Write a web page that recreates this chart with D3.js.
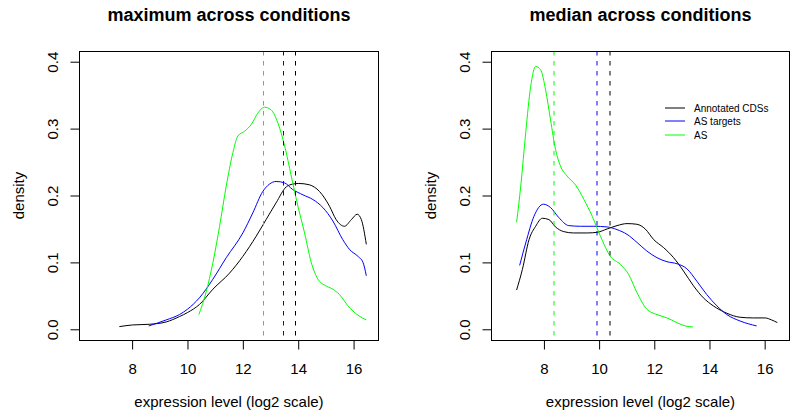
<!DOCTYPE html>
<html>
<head>
<meta charset="utf-8">
<script src="https://d3js.org/d3.v7.min.js"></script>
<style>
  body { margin: 0; background: #fff; }
  text { font-family: "Liberation Sans", Arial, Helvetica, sans-serif; fill: #000; }
</style>
</head>
<body>
<svg id="chart" width="790" height="414"></svg>
<script>
// series labels + colours (order: CDS, targets, AS)
var seriesNames = ["Annotated CDSs", "AS targets", "AS"];
var seriesColors = ["#000000", "#0000ff", "#00ff00"];

var xTicks = [8, 10, 12, 14, 16];
var yTicks = [0, 0.1, 0.2, 0.3, 0.4];

// maximum across conditions: density curves [log2 expression, density]
var maxCDS = [[7.54,0.004],[8.02,0.0065],[8.63,0.0075],[9.23,0.011],[9.71,0.019],[10.0,0.025],[10.43,0.037],
  [10.92,0.06],[11.52,0.084],[12.0,0.109],[12.48,0.139],[12.84,0.164],[13.2,0.189],[13.57,0.213],[13.8,0.217],
  [14.02,0.218],[14.4,0.216],[14.77,0.206],[15.13,0.184],[15.37,0.164],[15.67,0.154],[15.92,0.164],
  [16.13,0.172],[16.28,0.164],[16.46,0.127]];
var maxTargets = [[8.6,0.005],[9.23,0.014],[9.71,0.022],[10.0,0.03],[10.43,0.047],[10.92,0.075],[11.4,0.107],
  [12.0,0.144],[12.36,0.174],[12.72,0.206],[12.96,0.217],[13.2,0.221],[13.5,0.219],[13.8,0.209],[14.17,0.201],
  [14.53,0.194],[14.89,0.182],[15.25,0.162],[15.61,0.134],[15.86,0.119],[16.16,0.109],[16.34,0.1],[16.46,0.08]];
var maxAS = [[10.41,0.022],[10.67,0.055],[10.92,0.1],[11.16,0.154],[11.4,0.214],[11.64,0.264],[11.82,0.289],
  [12.06,0.296],[12.3,0.306],[12.54,0.323],[12.78,0.332],[13.02,0.328],[13.27,0.308],[13.51,0.274],[13.75,0.229],
  [13.99,0.184],[14.23,0.144],[14.47,0.1],[14.71,0.075],[14.95,0.066],[15.25,0.06],[15.49,0.052],[15.8,0.035],
  [16.16,0.021],[16.46,0.014]];
var maxMedians = [13.92, 13.48, 12.76];

// median across conditions
var medCDS = [[7.01,0.0587],[7.22,0.0896],[7.46,0.134],[7.7,0.154],[7.94,0.166],[8.18,0.164],[8.42,0.153],
  [8.72,0.146],[9.08,0.144],[9.57,0.144],[9.93,0.145],[10.29,0.15],[10.65,0.155],[11.01,0.158],[11.37,0.157],
  [11.67,0.15],[11.98,0.134],[12.34,0.122],[12.7,0.107],[13.06,0.087],[13.42,0.065],[13.78,0.047],[14.14,0.035],
  [14.63,0.024],[15.11,0.018],[15.59,0.017],[16.01,0.017],[16.25,0.014],[16.46,0.01]];
var medTargets = [[7.12,0.0955],[7.34,0.129],[7.64,0.169],[7.98,0.187],[8.24,0.182],[8.54,0.167],[8.9,0.155],
  [9.33,0.154],[9.81,0.154],[10.29,0.153],[10.65,0.149],[11.01,0.142],[11.37,0.13],[11.73,0.117],[12.1,0.107],
  [12.46,0.101],[12.82,0.098],[13.18,0.0905],[13.54,0.072],[13.9,0.052],[14.27,0.035],[14.63,0.022],
  [15.11,0.0124],[15.71,0.005]];
var medAS = [[7.01,0.16],[7.16,0.214],[7.34,0.294],[7.52,0.363],[7.7,0.393],[7.88,0.388],[8.06,0.358],
  [8.24,0.313],[8.42,0.269],[8.6,0.244],[8.84,0.229],[9.14,0.216],[9.45,0.194],[9.75,0.169],[10.05,0.139],
  [10.41,0.109],[10.77,0.097],[11.07,0.082],[11.37,0.055],[11.73,0.03],[12.1,0.022],[12.46,0.017],
  [12.82,0.01],[13.12,0.005],[13.4,0.0035]];
var medMedians = [10.42, 9.95, 8.37];

var svg = d3.select("#chart");

// crisp = dashed lines on pixel centres (left plot looks sharp, right one is soft in the original)
var panels = [
  {title: "maximum across conditions", curves: [maxCDS, maxTargets, maxAS], medians: maxMedians,
   left: 79.5, right: 378.5, legend: false, crisp: 0.5},
  {title: "median across conditions", curves: [medCDS, medTargets, medAS], medians: medMedians,
   left: 491.5, right: 789.5, legend: true, crisp: 0}
];

var plotTop = 51, plotBottom = 340, tick = 9;

panels.forEach(function(p) {
  // R style 4% padding around xlim 6.5-16.5, ylim 0-0.4
  var x = d3.scaleLinear().domain([6.1, 16.9]).range([p.left, p.right]);
  var y = d3.scaleLinear().domain([-0.016, 0.416]).range([plotBottom, plotTop]);
  var g = svg.append("g");

  var line = d3.line()
      .curve(d3.curveMonotoneX)
      .x(d => x(d[0]))
      .y(d => y(d[1]));

  p.curves.forEach(function(c, i) {
    g.append("path")
      .attr("d", line(c))
      .attr("fill", "none")
      .attr("stroke", seriesColors[i])
      .attr("stroke-width", 1);
  });

  // dashed medians
  g.selectAll(".med")
    .data(p.medians)
    .enter().append("line")
    .attr("class", "med")
    .attr("x1", d => Math.floor(x(d)) + p.crisp)
    .attr("x2", d => Math.floor(x(d)) + p.crisp)
    .attr("y1", plotTop).attr("y2", plotBottom)
    .attr("stroke", (d, i) => seriesColors[i])
    .attr("stroke-dasharray", "4.5,5.5");

  // box
  g.append("rect")
    .attr("x", p.left).attr("y", plotTop + 0.5)
    .attr("width", p.right - p.left).attr("height", plotBottom - plotTop)
    .attr("fill", "none").attr("stroke", "#000");

  // x axis
  var xa = g.append("g")
    .attr("transform", "translate(0," + (plotBottom + 0.5) + ")")
    .call(d3.axisBottom(x).tickValues(xTicks).tickSize(tick).tickPadding(14).tickFormat(d3.format("d")));
  xa.select(".domain").remove();
  xa.selectAll("text").attr("font-size", 15).attr("font-family", null);

  // y axis, labels rotated like R
  var ya = g.append("g")
    .attr("transform", "translate(" + p.left + ",0)")
    .call(d3.axisLeft(y).tickValues(yTicks).tickSize(tick).tickFormat(d3.format(".1f")));
  ya.select(".domain").remove();
  ya.selectAll("text")
    .attr("font-size", 15).attr("font-family", null)
    .attr("x", null).attr("dy", null)
    .attr("text-anchor", "middle")
    .attr("transform", "translate(" + (-22) + ",0) rotate(-90)");

  var cx = (p.left + p.right) / 2;
  g.append("text")
    .attr("x", cx).attr("y", 20.5)
    .attr("text-anchor", "middle")
    .attr("font-size", 18).attr("font-weight", "bold")
    .text(p.title);

  g.append("text")
    .attr("x", cx).attr("y", 407)
    .attr("text-anchor", "middle")
    .attr("font-size", 15)
    .text("expression level (log2 scale)");

  g.append("text")
    .attr("transform", "translate(" + (p.left - 56) + "," + ((plotTop + plotBottom) / 2) + ") rotate(-90)")
    .attr("text-anchor", "middle")
    .attr("font-size", 15)
    .text("density");

  if (p.legend) {
    var lg = g.selectAll(".legend")
      .data(seriesNames)
      .enter().append("g")
      .attr("class", "legend")
      .attr("transform", (d, i) => "translate(665," + Math.round(108 + i * 13.4) + ")");
    lg.append("line")
      .attr("x1", 0).attr("x2", 20)
      .attr("stroke", d => seriesColors[seriesNames.indexOf(d)]);
    lg.append("text")
      .attr("x", 29).attr("y", 3.6)
      .attr("font-size", 10)
      .text(d => d);
  }
});
</script>
</body>
</html>
